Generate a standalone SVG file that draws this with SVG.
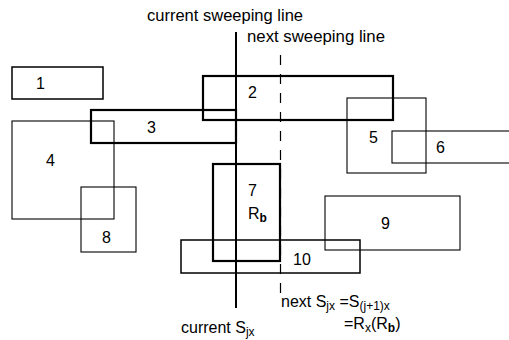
<svg xmlns="http://www.w3.org/2000/svg" width="509" height="340" viewBox="0 0 509 340">
<style>
  .box { fill: none; stroke: #000; }
  .thin { stroke-width: 1.1; }
  .med { stroke-width: 1.5; }
  .thick { stroke-width: 2.2; }
  .t { font-family: "Liberation Sans", Arial, sans-serif; font-size: 16px; fill: #000; }
  .sub { font-size: 12px; }
</style>
<rect width="509" height="340" fill="#fff"/>
<g id="connectors">
  <line x1="236" y1="32" x2="236" y2="308" stroke="#000" stroke-width="2"/>
  <line x1="280.5" y1="55" x2="280.5" y2="296" stroke="#000" stroke-width="1.2" stroke-dasharray="10 9"/>
</g>
<g id="n1"><rect class="box med" x="12" y="67" width="91" height="32"/><text class="t" x="36" y="89">1</text></g>
<g id="n2"><rect class="box thick" x="203" y="76" width="190" height="44"/><text class="t" x="248" y="98">2</text></g>
<g id="n3"><rect class="box thick" x="91" y="110" width="145" height="33"/><text class="t" x="147" y="133">3</text></g>
<g id="n4"><rect class="box thin" x="12" y="121" width="102" height="98"/><text class="t" x="46" y="166">4</text></g>
<g id="n5"><rect class="box thin" x="347" y="98" width="79" height="75"/><text class="t" x="369" y="143">5</text></g>
<g id="n6"><rect class="box thin" x="392" y="131" width="125" height="32"/><text class="t" x="436" y="153">6</text></g>
<g id="n7"><rect class="box thick" x="213" y="164" width="67" height="97"/><text class="t" x="248" y="196">7</text><text class="t" x="248" y="219">R<tspan class="sub" font-weight="bold" dy="3">b</tspan></text></g>
<g id="n8"><rect class="box thin" x="81" y="187" width="55" height="65"/><text class="t" x="102" y="243">8</text></g>
<g id="n9"><rect class="box thin" x="325" y="196" width="135" height="54"/><text class="t" x="381" y="229">9</text></g>
<g id="n10"><rect class="box med" x="181" y="240" width="179" height="33"/><text class="t" x="293" y="265">10</text></g>
<g id="labels">
  <text class="t" x="147" y="21" textLength="156" lengthAdjust="spacingAndGlyphs">current sweeping line</text>
  <text class="t" x="247" y="42" textLength="138" lengthAdjust="spacingAndGlyphs">next sweeping line</text>
  <text class="t" x="181" y="333">current S<tspan class="sub" dy="3">jx</tspan></text>
  <text class="t" x="281" y="307">next S<tspan class="sub" dy="3">jx</tspan><tspan dy="-3"> =S</tspan><tspan class="sub" dy="3">(j+1)x</tspan></text>
  <text class="t" x="344" y="329">=R<tspan class="sub" dy="3">x</tspan><tspan dy="-3">(R</tspan><tspan class="sub" font-weight="bold" dy="3">b</tspan><tspan dy="-3">)</tspan></text>
</g>
</svg>
